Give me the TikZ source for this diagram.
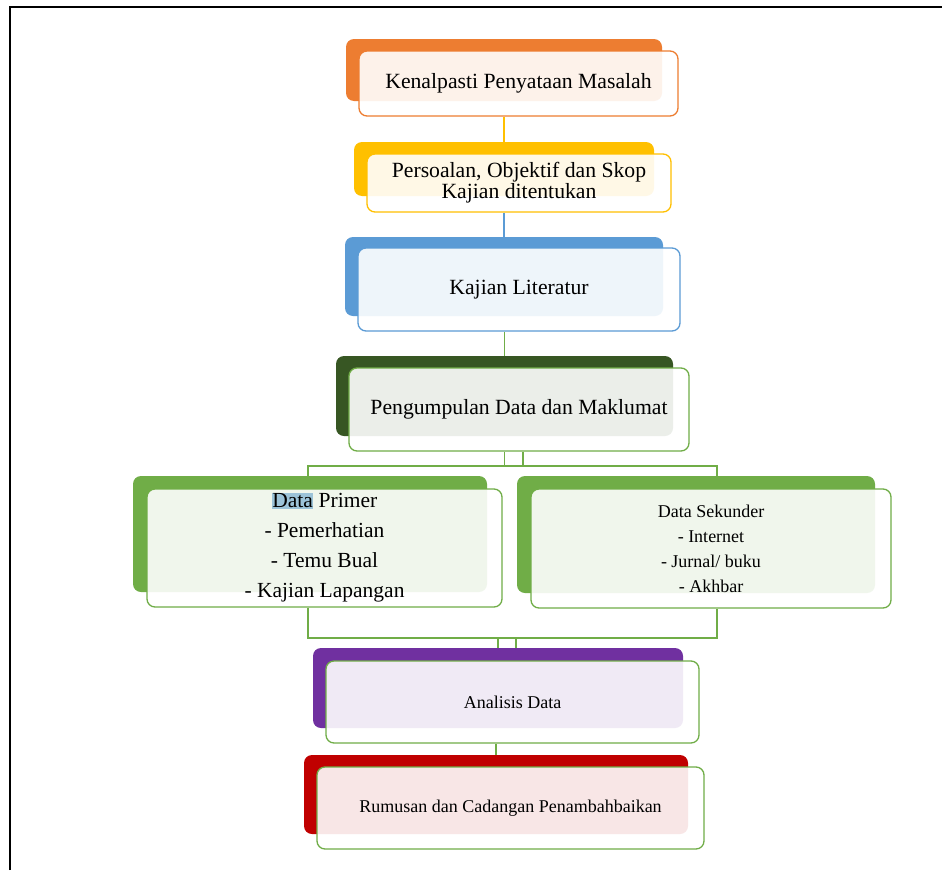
\documentclass[tikz,border=0pt]{standalone}
\usepackage{fontspec}
\setmainfont{Liberation Serif}
\usetikzlibrary{calc}
\pgfdeclarelayer{bg}
\pgfsetlayers{bg,main}
\definecolor{corange}{HTML}{ED7D31}
\definecolor{cyellow}{HTML}{FFC000}
\definecolor{cblue}{HTML}{5B9BD5}
\definecolor{cdgreen}{HTML}{375623}
\definecolor{cgreen}{HTML}{70AD47}
\definecolor{cpurple}{HTML}{7030A0}
\definecolor{cred}{HTML}{C00000}
\definecolor{hl}{HTML}{9CC3D8}
\tikzset{
  backbox/.style={rectangle, rounded corners=8pt, inner sep=0pt, draw=none},
  frontbox/.style={rectangle, rounded corners=8pt, inner sep=0pt, line width=1.3pt,
     fill=white, fill opacity=0.9, text opacity=1, align=center, font=\fontsize{21.7}{23}\selectfont},
  smallfont/.style={font=\fontsize{18}{20}\selectfont},
  gline/.style={draw=cgreen, line width=1.3pt},
}
\begin{document}
\begin{tikzpicture}[x=1pt,y=-1pt]
\useasboundingbox (0,0) rectangle (942,870);

% box 1
\node[backbox, fill=corange, minimum width=316pt, minimum height=62pt] (b1) at (504,70) {};
\node[frontbox, draw=corange, minimum width=319pt, minimum height=65pt] (f1) at (518.5,83.5) {Kenalpasti Penyataan Masalah};
% box 2
\node[backbox, fill=cyellow, minimum width=300pt, minimum height=54pt] (b2) at (504,169) {};
\node[frontbox, draw=cyellow, minimum width=304pt, minimum height=58pt, font=\fontsize{21.7}{21}\selectfont] (f2) at (519,183) {Persoalan, Objektif dan Skop\\Kajian ditentukan};
% box 3
\node[backbox, fill=cblue, minimum width=318pt, minimum height=79pt] (b3) at (504,276.5) {};
\node[frontbox, draw=cblue, minimum width=322pt, minimum height=83pt] (f3) at (519,289.5) {Kajian Literatur};
% box 4
\node[backbox, fill=cdgreen, minimum width=337pt, minimum height=80pt] (b4) at (504.5,396) {};
\node[frontbox, draw=cgreen, minimum width=340pt, minimum height=83pt] (f4) at (519,409.5) {Pengumpulan Data dan Maklumat};
% box 5
\node[backbox, fill=cgreen, minimum width=354pt, minimum height=116pt] (b5) at (310,534) {};
\node[frontbox, draw=cgreen, minimum width=355pt, minimum height=118pt, font=\fontsize{21.5}{30}\selectfont] (f5) at (324.5,548) {{\setlength{\fboxsep}{0.5pt}\colorbox{hl}{Data}} Primer\\- Pemerhatian\\- Temu Bual\\- Kajian Lapangan};
% box 6
\node[backbox, fill=cgreen, minimum width=358pt, minimum height=117pt] (b6) at (696,534.5) {};
\node[frontbox, draw=cgreen, minimum width=360pt, minimum height=119pt, font=\fontsize{18}{25}\selectfont] (f6) at (711,548.5) {Data Sekunder\\- Internet\\- Jurnal/ buku\\- Akhbar};
% box 7
\node[backbox, fill=cpurple, minimum width=370pt, minimum height=80pt] (b7) at (498,688) {};
\node[frontbox, draw=cgreen, minimum width=373pt, minimum height=82pt, smallfont] (f7) at (512.5,702) {Analisis Data};
% box 8
\node[backbox, fill=cred, minimum width=384pt, minimum height=79pt] (b8) at (496,794.5) {};
\node[frontbox, draw=cgreen, minimum width=387pt, minimum height=82pt, smallfont] (f8) at (510.5,808) {Rumusan dan Cadangan Penambahbaikan};

\coordinate (j1) at (308,466);
\coordinate (j2) at (717,466);
\coordinate (k1) at (308,638);
\coordinate (k2) at (717,638);
\coordinate (m1) at (498,638);
\coordinate (m2) at (516,638);

\begin{pgfonlayer}{bg}
\fill[white] (0,0) rectangle (942,870);
\draw[line width=2pt, black] (9.5,870) -- (9.5,6.5) -- (942,6.5);
\draw[draw=cyellow, line width=1.3pt] (f1.south -| b2.north) -- (b2.north);
\draw[draw=cblue, line width=1.3pt] (f2.south -| b3.north) -- (b3.north);
\draw[gline] (f3.south -| b4.north) -- (b4.north);
\draw[gline] (f4.south -| b4.north) -- (j1 -| b4.north);
\draw[gline] ([xshift=4pt]f4.south) -- ([xshift=4pt]f4.south |- j1);
\draw[gline] (j1 |- b5.north) -- (j1) -- (j2) -- (j2 |- b6.north);
\draw[gline] (k1 |- f5.south) -- (k1) -- (k2) -- (k2 |- f6.south);
\draw[gline] (m1 |- b7.north) -- (m1) -- (m2) -- (m2 |- b7.north);
\draw[gline] (f7.south -| b8.north) -- (b8.north);
\end{pgfonlayer}
\end{tikzpicture}
\end{document}
